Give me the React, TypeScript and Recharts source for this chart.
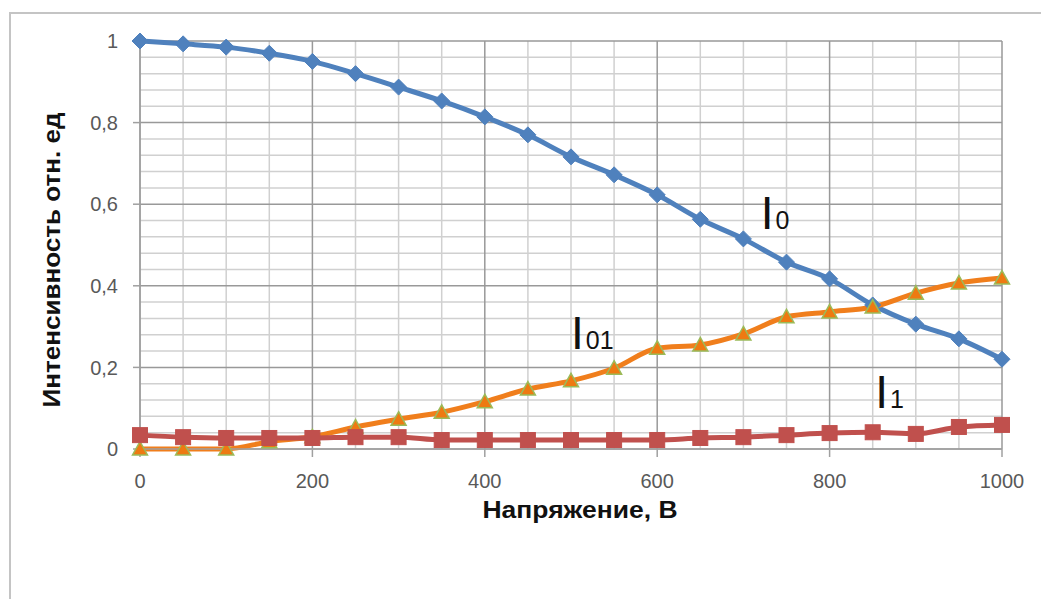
import React from 'react';
import { LineChart, Line, XAxis, YAxis, CartesianGrid, ReferenceDot } from 'recharts';

const voltages = [0, 50, 100, 150, 200, 250, 300, 350, 400, 450, 500, 550, 600, 650, 700, 750, 800, 850, 900, 950, 1000];
const i0Values = [1.0, 0.993, 0.985, 0.97, 0.95, 0.92, 0.887, 0.853, 0.814, 0.77, 0.716, 0.672, 0.623, 0.563, 0.515, 0.458, 0.417, 0.353, 0.306, 0.27, 0.22];
const i01Values = [0, 0, 0, 0.018, 0.03, 0.054, 0.073, 0.09, 0.116, 0.147, 0.167, 0.198, 0.247, 0.255, 0.282, 0.324, 0.336, 0.348, 0.382, 0.407, 0.419];
const i1Values = [0.034, 0.029, 0.027, 0.027, 0.027, 0.029, 0.029, 0.022, 0.022, 0.022, 0.022, 0.022, 0.022, 0.027, 0.029, 0.034, 0.039, 0.041, 0.037, 0.054, 0.059];

const xDomain = [0, 1000];
const yDomain = [0, 1];
const xTicks = [0, 200, 400, 600, 800, 1000];
const yTicks = [0, 0.2, 0.4, 0.6, 0.8, 1];
const xMinor = [50, 100, 150, 250, 300, 350, 450, 500, 550, 650, 700, 750, 850, 900, 950];
const yMinor = [0.04, 0.08, 0.12, 0.16, 0.24, 0.28, 0.32, 0.36, 0.44, 0.48, 0.52, 0.56, 0.64, 0.68, 0.72, 0.76, 0.84, 0.88, 0.92, 0.96];

const seriesLabels = [
  { name: 'I', sub: '0', x: 720, y: 0.539 },
  { name: 'I', sub: '01', x: 500, y: 0.245 },
  { name: 'I', sub: '1', x: 853, y: 0.1 },
];

const xTitle = 'Напряжение, В';
const yTitle = 'Интенсивность отн. ед';

const data = voltages.map((v, i) => ({ v, i0: i0Values[i], i01: i01Values[i], i1: i1Values[i] }));

const BLUE = '#4f81bd';
const RED = '#c0504d';
const ORANGE = '#f07e1c';
const GREEN = '#9bbb59';
const TITLE_FONT = "'Liberation Sans Narrow', 'Liberation Sans', sans-serif";

const Diamond = (props: any) => {
  const { cx, cy } = props;
  if (cx == null || cy == null) return <g key={props.key} />;
  const r = 8;
  return <path key={props.key} d={`M${cx},${cy - r}L${cx + r},${cy}L${cx},${cy + r}L${cx - r},${cy}Z`} fill={BLUE} stroke={BLUE} strokeWidth={1} />;
};
const Square = (props: any) => {
  const { cx, cy } = props;
  if (cx == null || cy == null) return <g key={props.key} />;
  const h = 7.5;
  return <rect key={props.key} x={cx - h} y={cy - h} width={2 * h} height={2 * h} fill={RED} stroke={RED} strokeWidth={1} />;
};
const Triangle = (props: any) => {
  const { cx, cy } = props;
  if (cx == null || cy == null) return <g key={props.key} />;
  const r = 7.5;
  return <path key={props.key} d={`M${cx},${cy - r}L${cx + r},${cy + r * 0.8}L${cx - r},${cy + r * 0.8}Z`} fill="#ee7a12" stroke={GREEN} strokeWidth={1.5} />;
};

const fmt = (v: number) => String(v).replace('.', ',');

const LabelShape = (item: { name: string; sub: string }) => (props: any) => {
  const { cx, cy } = props;
  return (
    <text x={cx} y={cy} fill="#111" fontFamily={TITLE_FONT}>
      <tspan fontSize={46}>{item.name}</tspan>
      <tspan fontSize={25} dx={2}>{item.sub}</tspan>
    </text>
  );
};

const yGen = (p: any) => {
  const o = p.offset;
  return yMinor.map((v) => o.top + o.height * (1 - (v - yDomain[0]) / (yDomain[1] - yDomain[0])));
};
const xGen = (p: any) => {
  const o = p.offset;
  return xMinor.map((v) => o.left + o.width * ((v - xDomain[0]) / (xDomain[1] - xDomain[0])));
};

export default function App() {
  return (
    <div style={{ position: 'absolute', left: 0, top: 0, width: 1041, height: 599, overflow: 'hidden', background: '#fff' }}>
      <div style={{ position: 'absolute', left: 9, top: 12, width: 1200, height: 800, borderTop: '2px solid #c4c4c4', borderLeft: '2px solid #c4c4c4' }} />
      <div style={{ position: 'absolute', left: 0, top: 0 }}>
        <LineChart width={1041} height={599} data={data} margin={{ top: 41, right: 39, left: 0, bottom: 0 }}>
          <CartesianGrid stroke="#d0d0d0" strokeWidth={1.5} horizontalCoordinatesGenerator={yGen} verticalCoordinatesGenerator={xGen} />
          <CartesianGrid stroke="#999999" strokeWidth={1.5} />
          <XAxis
            dataKey="v"
            type="number"
            domain={xDomain}
            ticks={xTicks}
            height={150}
            stroke="#a0a0a0"
            strokeWidth={1.5}
            tickSize={8}
            tickMargin={17}
            tick={{ fill: '#595959', fontSize: 20, fontFamily: "'Liberation Sans', sans-serif" }}
            label={{
              content: (p: any) => {
                const vb = p.viewBox;
                return (
                  <text x={vb.x + vb.width / 2 + 9} y={vb.y + 69} textAnchor="middle" fontSize={23} fontWeight="bold" fill="#111" fontFamily={TITLE_FONT} textLength={195} lengthAdjust="spacingAndGlyphs">
                    {xTitle}
                  </text>
                );
              },
            }}
          />
          <YAxis
            type="number"
            domain={yDomain}
            ticks={yTicks}
            width={140}
            stroke="#a0a0a0"
            strokeWidth={1.5}
            tickSize={7}
            tickMargin={15}
            tickFormatter={fmt}
            tick={{ fill: '#595959', fontSize: 20, fontFamily: "'Liberation Sans', sans-serif" }}
            label={{
              content: (p: any) => {
                const vb = p.viewBox;
                const cy = vb.y + vb.height / 2 + 15;
                return (
                  <text x={52} y={cy} transform={`rotate(-90 52 ${cy})`} textAnchor="middle" dominantBaseline="central" fontSize={23} fontWeight="bold" fill="#111" fontFamily={TITLE_FONT} textLength={295} lengthAdjust="spacingAndGlyphs">
                    {yTitle}
                  </text>
                );
              },
            }}
          />
          <Line type="monotone" dataKey="i0" stroke={BLUE} strokeWidth={5} dot={Diamond} activeDot={false} isAnimationActive={false} />
          <Line type="monotone" dataKey="i01" stroke={ORANGE} strokeWidth={5} dot={Triangle} activeDot={false} isAnimationActive={false} />
          <Line type="monotone" dataKey="i1" stroke={RED} strokeWidth={5} dot={Square} activeDot={false} isAnimationActive={false} />
          {seriesLabels.map((l, i) => (
            <ReferenceDot key={i} x={l.x} y={l.y} r={0} shape={LabelShape(l)} />
          ))}
        </LineChart>
      </div>
    </div>
  );
}
